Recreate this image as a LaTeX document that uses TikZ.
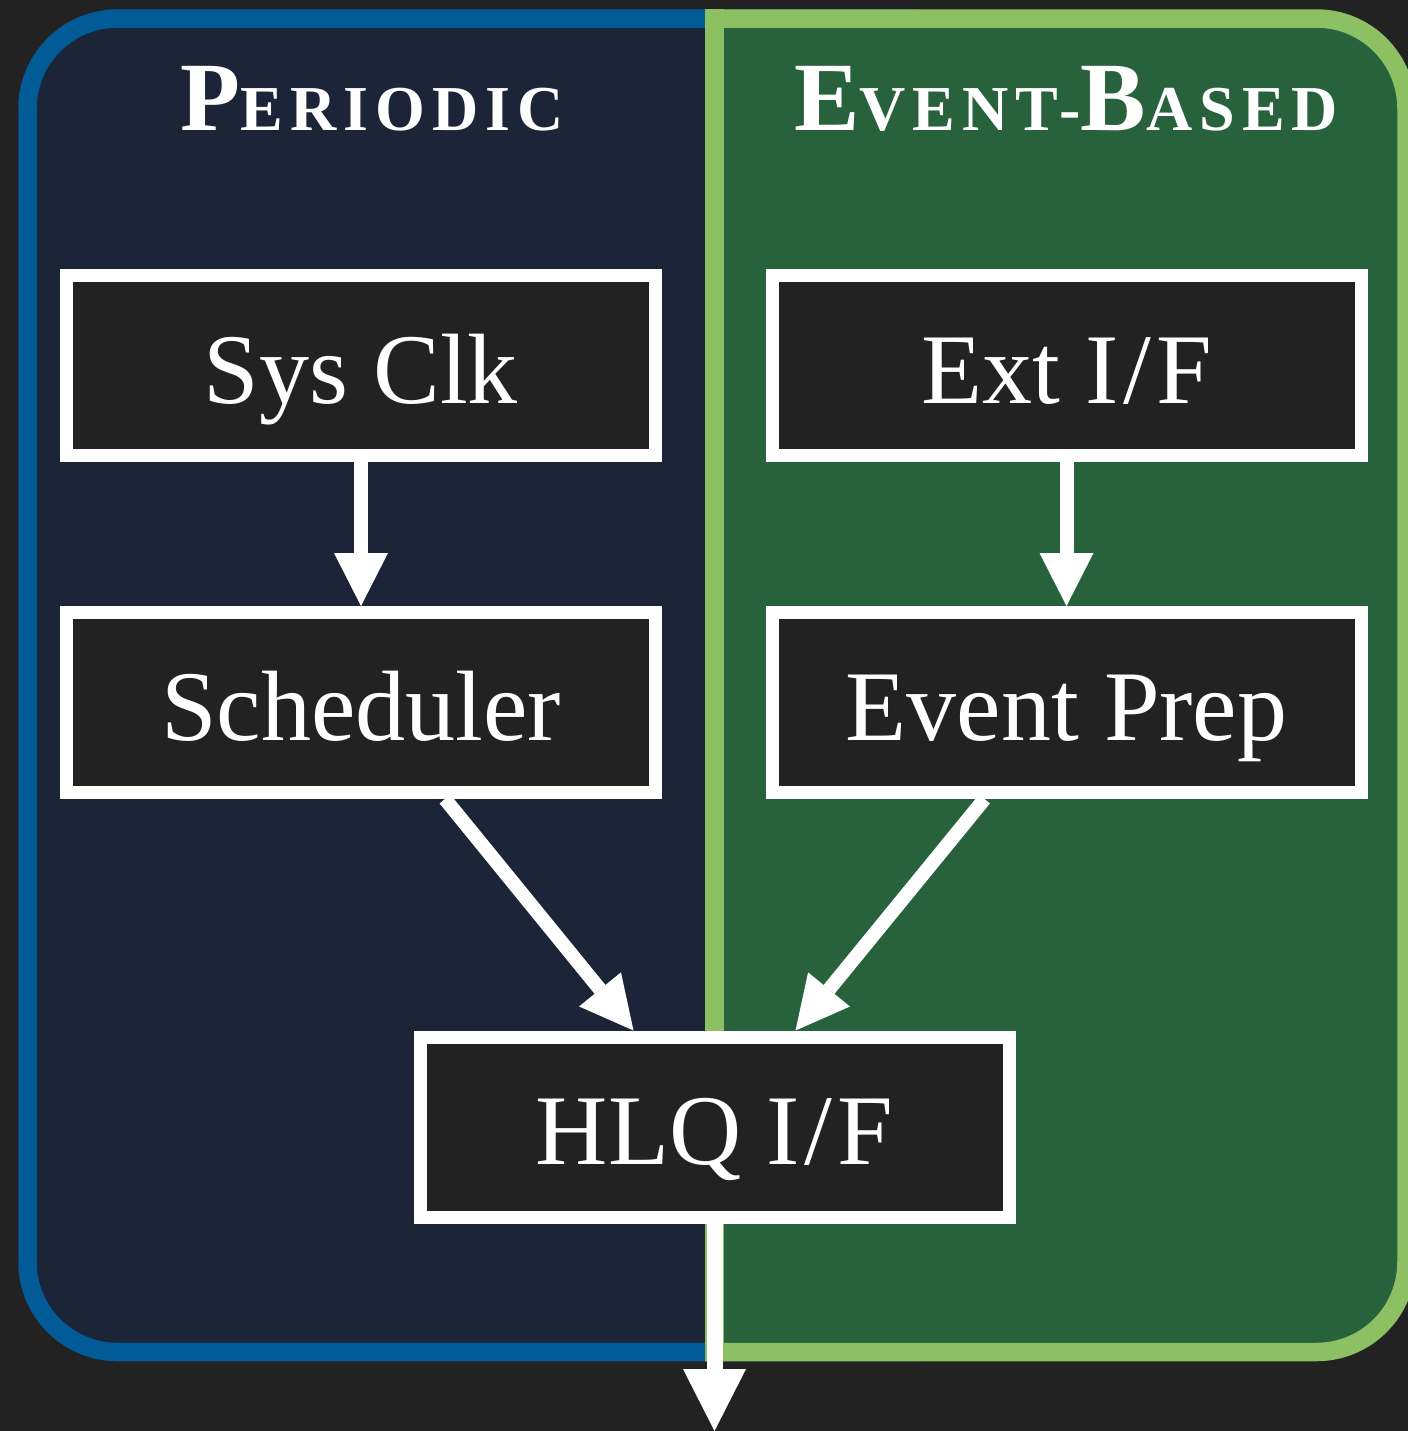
\documentclass[tikz,border=0pt]{standalone}
\usepackage{fontspec}
\setmainfont{Liberation Serif}
\usetikzlibrary{arrows.meta}

\definecolor{pagebg}{HTML}{222222}
\definecolor{perline}{HTML}{005B96}
\definecolor{perfill}{HTML}{1C2538}
\definecolor{evline}{HTML}{8CC063}
\definecolor{evfill}{HTML}{28623D}

% capital followed by small capitals, set by size
\newcommand{\capA}[1]{{\fontsize{49}{58}\selectfont\addfontfeatures{LetterSpace=6}#1}}
\newcommand{\capB}[1]{{\fontsize{32}{38}\selectfont\addfontfeatures{LetterSpace=11}#1}}
\newcommand{\slashIF}{I\kern2.5pt/\kern2.5pt F}

\tikzset{
  stage/.style={draw=white, fill=pagebg, line width=6.5pt,
    minimum width=294.5pt, minimum height=90pt, inner sep=0pt,
    text=white, text height=37.5pt, text depth=0pt,
    font=\fontsize{50}{60}\selectfont},
  title/.style={anchor=base, text=white, inner sep=0pt,
    font=\bfseries},
  flow/.style={draw=white, line width=7pt,
    -{Triangle[width=27pt,length=26.5pt,line width=0pt]}},
  outflow/.style={draw=white, line width=8pt,
    -{Triangle[width=31.5pt,length=31pt,line width=0pt]}},
}

\begin{document}
\begin{tikzpicture}[x=0.5pt, y=-0.5pt]
  % canvas
  \fill[pagebg] (0,0) rectangle (1408,1431);
  \useasboundingbox (0,0) rectangle (1408,1431);

  % periodic panel
  \draw[perline, fill=perfill, line width=9.25pt, rounded corners=45pt]
    (27.5,18.5) rectangle (1000,1352);

  % event-based panel, square on its left side
  \begin{scope}
    \clip (705,-20) rectangle (1450,1450);
    \draw[evline, fill=evfill, line width=9.25pt, rounded corners=45pt]
      (400,18.5) rectangle (1406.5,1352);
  \end{scope}
  \draw[evline, line width=9.25pt] (714.5,9.25) -- (714.5,1361.25);

  % panel titles
  \node[title] (tper) at (372,130) {\capA{P}\capB{ERIODIC}};
  \node[title] (tev) at (1066,130) {\capA{E}\capB{VENT-}\capA{B}\capB{ASED}};

  % stages
  \node[stage] (clk) at (361,365.5) {Sys Clk};
  \node[stage] (sched) at (361,702.5) {Scheduler};
  \node[stage] (ext) at (1066.5,365.5) {Ext \slashIF};
  \node[stage] (prep) at (1066.5,702.5) {Event Prep};
  \node[stage] (hlq) at (714.5,1127) {HLQ \slashIF};
  \coordinate (out) at (714.5,1431);

  % connectors
  \draw[flow] (clk.south) -- (sched.north);
  \draw[flow] (ext.south) -- (prep.north);
  \draw[flow] ([xshift=42pt]sched.south) -- ([xshift=-40.5pt]hlq.north);
  \draw[flow] ([xshift=-41pt]prep.south) -- ([xshift=40.5pt]hlq.north);
  \draw[outflow] (hlq.south) -- (out);
\end{tikzpicture}
\end{document}
